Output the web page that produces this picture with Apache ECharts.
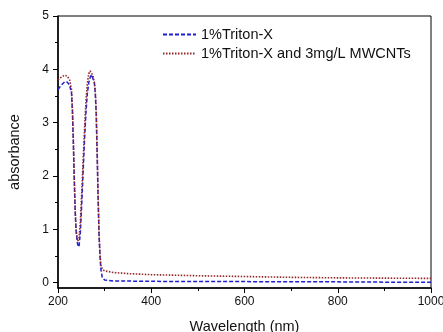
<!DOCTYPE html>
<html><head><meta charset="utf-8">
<script src="https://cdn.jsdelivr.net/npm/echarts@6/dist/echarts.min.js"></script>
<style>html,body{margin:0;padding:0;background:#fff}#c{width:443px;height:332px}</style>
</head><body><div id="c"></div>
<script>
const wavelength = [200,205,210,215,220,225,229,231,233,235,237,239,242,245,248,251,254,257,260,263,266,269,272,275,278,280,282,284,286,288,290,292,295,300,320,350,400,500,600,700,800,900,1000];
const tritonX = [3.62,3.68,3.73,3.77,3.76,3.70,3.55,3.20,2.60,1.90,1.30,0.95,0.72,0.67,0.95,1.50,2.10,2.70,3.20,3.55,3.75,3.85,3.90,3.88,3.75,3.55,3.15,2.40,1.60,0.90,0.50,0.25,0.10,0.05,0.03,0.03,0.025,0.02,0.02,0.015,0.015,0.01,0.01];
const tritonMWCNT = [3.80,3.84,3.87,3.89,3.87,3.80,3.62,3.25,2.65,1.95,1.35,0.98,0.78,0.82,1.15,1.70,2.30,2.90,3.40,3.75,3.92,3.97,3.95,3.88,3.75,3.58,3.20,2.45,1.65,0.95,0.55,0.33,0.25,0.22,0.19,0.17,0.15,0.13,0.115,0.10,0.09,0.085,0.08];
const seriesNames = ['1%Triton-X','1%Triton-X and 3mg/L MWCNTs'];
const yTicks = [0,1,2,3,4,5];
const yMinorTicks = [0.5,1.5,2.5,3.5,4.5];

const font = 'Liberation Sans, Arial, sans-serif';
const chart = echarts.init(document.getElementById('c'), null, {renderer:'canvas'});
chart.setOption({
  animation:false,
  backgroundColor:'#fff',
  grid:{left:58,right:12,top:16,bottom:44,outerBoundsMode:'none',containLabel:false,show:true,borderColor:'#000',borderWidth:1,backgroundColor:'transparent'},
  legend:{
    orient:'vertical', left:162, top:27, itemGap:4, itemWidth:33, itemHeight:14,
    padding:0,
    itemStyle:{color:'rgba(0,0,0,0)',borderColor:'rgba(0,0,0,0)',borderWidth:0},
    textStyle:{fontFamily:font,fontSize:14.5,color:'#111'},
    data:seriesNames
  },
  xAxis:{
    type:'value', min:200, max:1000, interval:200,
    name:'Wavelength (nm)', nameLocation:'middle', nameGap:31,
    nameTextStyle:{fontFamily:font,fontSize:14.5,color:'#111'},
    axisLine:{onZero:false,lineStyle:{color:'#000',width:1.5}},
    axisTick:{inside:false,length:5,lineStyle:{color:'#000'}},
    minorTick:{show:true,splitNumber:2,length:3,lineStyle:{color:'#000'}},
    axisLabel:{fontFamily:font,fontSize:12,color:'#111',margin:8,formatter:v=>String(v)},
    splitLine:{show:false}
  },
  yAxis:[{
    type:'value', min:-0.1, max:5,
    name:'absorbance', nameLocation:'middle', nameGap:36,
    nameTextStyle:{fontFamily:font,fontSize:14.5,color:'#111'},
    axisLine:{show:true,onZero:false,lineStyle:{color:'#000',width:1.5}},
    axisTick:{show:true,length:5,customValues:yTicks,lineStyle:{color:'#000'}},
    axisLabel:{fontFamily:font,fontSize:12,color:'#111',margin:9,customValues:yTicks},
    splitLine:{show:false}
  },{
    type:'value', min:-0.1, max:5, position:'left',
    axisLine:{show:false,onZero:false},
    axisTick:{show:true,length:3,customValues:yMinorTicks,lineStyle:{color:'#000'}},
    axisLabel:{show:false},
    splitLine:{show:false}
  }],
  series:[{
    name:seriesNames[0], type:'line', symbol:'none',
    data:wavelength.map((w,i)=>[w,tritonX[i]]),
    itemStyle:{color:'#1f1fd0'},
    lineStyle:{color:'#1f1fd0',width:1.5,type:[4,2]}
  },{
    name:seriesNames[1], type:'line', symbol:'none',
    data:wavelength.map((w,i)=>[w,tritonMWCNT[i]]),
    itemStyle:{color:'#922626'},
    lineStyle:{color:'#922626',width:1.6,type:[1.5,1.5]}
  }]
});
</script></body></html>
